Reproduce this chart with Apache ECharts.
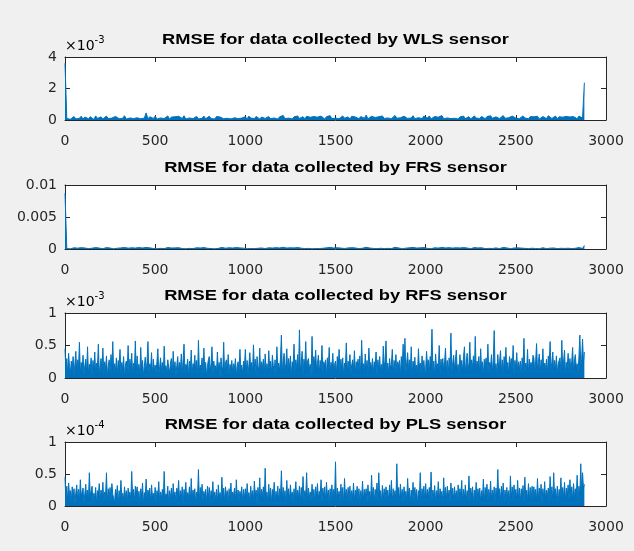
<!DOCTYPE html>
<html>
<head>
<meta charset="utf-8">
<script src="https://cdn.jsdelivr.net/npm/echarts@6/dist/echarts.min.js"></script>
<style>
  html, body { margin: 0; padding: 0; background: #f0f0f0; }
  #chart { width: 634px; height: 551px; }
</style>
</head>
<body>
<div id="chart"></div>
<script>
// sample index spacing of each array (one value every N samples)
const wlsStep = 10, frsStep = 10, rfsStep = 5, plsStep = 5;

// WLS, in units of 1e-5
const wlsRmse = [
  360, 9, 18, 5, 14, 22, 7, 16, 11, 24, 6, 19, 13, 8, 21, 15, 4, 26, 10, 17,
  20, 7, 14, 25, 9, 18, 12, 5, 23, 15, 8, 20, 11, 27, 6, 16, 13, 22, 9, 18,
  14, 25, 8, 19, 12, 45, 7, 21, 16, 10, 24, 6, 18, 13, 22, 9, 15, 26, 5, 19,
  12, 20, 8, 24, 15, 10, 27, 6, 17, 13, 21, 9, 16, 23, 7, 19, 11, 25, 8, 14,
  24, 10, 17, 6, 22, 13, 19, 28, 8, 15, 11, 23, 7, 18, 14, 26, 9, 20, 12, 16,
  21, 7, 25, 12, 17, 9, 23, 14, 6, 19, 27, 10, 15, 22, 8, 18, 13, 24, 6, 20,
  15, 29, 9, 18, 12, 23, 7, 20, 14, 26, 10, 16, 21, 8, 24, 13, 17, 6, 22, 11,
  18, 10, 25, 14, 7, 21, 16, 28, 9, 19, 12, 23, 8, 17, 26, 11, 15, 20, 6, 24,
  13, 19, 27, 8, 22, 15, 11, 31, 7, 18, 24, 12, 16, 9, 21, 14, 26, 10, 19, 13,
  23, 8, 17, 29, 11, 20, 14, 6, 24, 16, 10, 22, 13, 27, 8, 18, 15, 21, 9, 25,
  19, 12, 26, 7, 16, 22, 10, 18, 14, 28, 8, 20, 13, 24, 9, 17, 11, 23, 6, 19,
  14, 25, 9, 18, 21, 7, 16, 26, 12, 19, 10, 23, 15, 8, 22, 13, 27, 11, 17, 20,
  24, 9, 16, 28, 11, 20, 14, 7, 25, 18, 12, 21, 9, 17, 26, 13, 19, 8, 22, 15,
  20, 11, 24, 7, 17, 22, 13, 9, 27, 16, 10, 19, 25, 8, 21, 14, 18, 12, 23, 15,
  19, 10, 22, 14, 8, 25, 16, 12, 237
];

// FRS, in units of 1e-5
const frsRmse = [
  870, 6, 15, 3, 11, 19, 5, 13, 8, 21, 4, 16, 10, 6, 18, 12, 3, 22, 7, 14,
  17, 5, 11, 22, 7, 15, 9, 3, 20, 12, 6, 17, 8, 24, 4, 13, 10, 19, 6, 15,
  11, 22, 6, 16, 9, 25, 5, 18, 13, 7, 21, 4, 15, 10, 19, 6, 12, 23, 3, 16,
  9, 17, 6, 21, 12, 7, 24, 4, 14, 10, 18, 6, 13, 20, 5, 16, 8, 22, 6, 11,
  21, 7, 14, 4, 19, 10, 16, 25, 6, 12, 8, 20, 5, 15, 11, 23, 6, 17, 9, 13,
  18, 5, 22, 9, 14, 6, 20, 11, 4, 16, 24, 7, 12, 19, 6, 15, 10, 21, 4, 17,
  12, 26, 6, 15, 9, 20, 5, 17, 11, 23, 7, 13, 18, 6, 21, 10, 14, 4, 19, 8,
  15, 7, 22, 11, 5, 18, 13, 25, 6, 16, 9, 20, 6, 14, 23, 8, 12, 17, 4, 21,
  10, 16, 24, 6, 19, 12, 8, 27, 5, 15, 21, 9, 13, 6, 18, 11, 23, 7, 16, 10,
  20, 6, 14, 26, 8, 17, 11, 4, 21, 13, 7, 19, 10, 24, 6, 15, 12, 18, 6, 22,
  16, 9, 23, 5, 13, 19, 7, 15, 11, 25, 6, 17, 10, 21, 6, 14, 8, 20, 4, 16,
  11, 22, 6, 15, 18, 5, 13, 23, 9, 16, 7, 20, 12, 6, 19, 10, 24, 8, 14, 17,
  21, 6, 13, 25, 8, 17, 11, 5, 22, 15, 9, 18, 6, 14, 23, 10, 16, 6, 19, 12,
  17, 8, 21, 5, 14, 19, 10, 6, 24, 13, 7, 16, 22, 6, 18, 11, 15, 9, 20, 12,
  16, 7, 19, 11, 6, 22, 13, 9, 55
];

// RFS, in units of 1e-5
const rfsRmse = [
  45, 12, 30, 5, 38, 18, 8, 26, 14, 33, 3, 22, 41, 9, 28, 16, 55, 7, 24, 11, 35, 4, 19, 29, 10, 48, 6, 21, 15, 31, 2, 27, 13, 40, 8, 23, 17, 52, 5, 20,
  30, 11, 46, 7, 25, 14, 34, 3, 19, 28, 9, 36, 16, 56, 6, 22, 12, 31, 4, 27, 18, 44, 8, 24, 13, 33, 2, 20, 26, 10, 50, 7, 29, 15, 38, 5, 23, 12, 57, 9,
  34, 14, 21, 6, 47, 11, 27, 3, 18, 32, 10, 25, 56, 7, 22, 15, 39, 4, 29, 12, 20, 8, 26, 45, 5, 17, 31, 11, 24, 2, 49, 13, 19, 7, 28, 16, 9, 23, 30, 6,
  41, 12, 25, 4, 19, 33, 8, 24, 14, 37, 5, 28, 52, 10, 21, 16, 29, 3, 26, 13, 43, 7, 22, 18, 35, 9, 27, 4, 58, 11, 20, 15, 31, 6, 46, 12, 24, 3, 18, 28,
  33, 9, 22, 48, 5, 26, 14, 19, 7, 40, 12, 24, 2, 31, 17, 11, 55, 6, 23, 28, 10, 36, 4, 21, 15, 27, 8, 22, 13, 30, 3, 19, 25, 9, 44, 12, 20, 6, 26, 16,
  44, 10, 27, 5, 21, 39, 13, 24, 8, 51, 15, 29, 3, 33, 18, 11, 46, 7, 25, 16, 29, 4, 37, 12, 22, 9, 42, 14, 26, 6, 35, 19, 10, 28, 4, 48, 13, 23, 11, 31,
  66, 8, 27, 38, 12, 22, 45, 6, 30, 14, 34, 3, 25, 18, 52, 9, 28, 15, 36, 7, 74, 11, 24, 41, 5, 29, 17, 56, 10, 26, 30, 13, 21, 4, 64, 8, 33, 19, 43, 12,
  22, 35, 6, 27, 14, 50, 9, 25, 18, 28, 4, 31, 13, 47, 7, 24, 16, 38, 10, 21, 26, 5, 33, 15, 44, 8, 29, 12, 31, 3, 23, 17, 54, 9, 26, 14, 36, 6, 20, 28,
  14, 42, 7, 25, 18, 29, 11, 34, 4, 58, 15, 22, 9, 37, 13, 27, 6, 46, 17, 24, 13, 30, 8, 25, 19, 40, 5, 28, 12, 33, 10, 21, 4, 49, 16, 26, 57, 11, 23, 8,
  30, 15, 21, 44, 6, 27, 12, 36, 9, 25, 18, 27, 4, 33, 14, 52, 10, 61, 7, 24, 39, 13, 28, 11, 48, 5, 26, 17, 32, 8, 20, 10, 45, 15, 23, 6, 34, 12, 27, 9,
  13, 41, 19, 28, 8, 33, 24, 75, 11, 26, 4, 37, 16, 22, 11, 50, 7, 29, 18, 30, 12, 25, 46, 9, 27, 5, 31, 14, 69, 8, 23, 35, 13, 28, 43, 10, 21, 6, 36, 17,
  27, 10, 33, 48, 7, 24, 38, 13, 22, 55, 9, 28, 16, 34, 8, 64, 12, 26, 19, 33, 6, 45, 14, 25, 4, 29, 17, 31, 11, 52, 8, 24, 18, 36, 9, 27, 73, 12, 22, 7,
  36, 14, 25, 42, 9, 28, 5, 33, 17, 47, 11, 24, 8, 33, 19, 30, 12, 50, 6, 27, 15, 39, 10, 25, 14, 26, 4, 31, 18, 61, 9, 23, 13, 44, 7, 29, 19, 24, 11, 35,
  31, 9, 26, 53, 12, 24, 37, 7, 28, 16, 45, 10, 23, 14, 29, 5, 34, 18, 56, 11, 25, 40, 8, 27, 14, 34, 6, 22, 19, 31, 9, 58, 13, 26, 43, 7, 24, 16, 38, 11,
  30, 13, 25, 47, 9, 28, 36, 15, 22, 8, 33, 66, 19, 28, 60, 24, 40
];

// PLS, in units of 1e-6
const plsRmse = [
  45, 10, 31, 6, 36, 18, 24, 8, 30, 14, 27, 4, 21, 33, 11, 26, 7, 41, 15, 22, 28, 5, 19, 34, 12, 25, 9, 52, 16, 23, 31, 6, 20, 13, 29, 4, 24, 17, 35, 10,
  25, 12, 37, 7, 22, 16, 52, 5, 27, 13, 29, 9, 35, 18, 21, 6, 26, 14, 32, 3, 24, 11, 40, 15, 20, 8, 30, 13, 24, 5, 28, 16, 22, 9, 54, 12, 26, 7, 31, 18,
  30, 11, 23, 6, 27, 15, 36, 4, 21, 12, 42, 9, 25, 17, 28, 5, 33, 14, 20, 10, 29, 7, 24, 16, 38, 6, 22, 13, 26, 9, 54, 11, 19, 15, 31, 4, 24, 12, 28, 8,
  35, 14, 22, 6, 28, 17, 40, 9, 24, 12, 30, 5, 26, 15, 37, 8, 21, 13, 30, 6, 43, 11, 25, 16, 27, 4, 22, 14, 57, 9, 29, 12, 34, 7, 23, 15, 26, 5, 31, 13,
  29, 8, 24, 15, 38, 6, 22, 11, 26, 4, 33, 14, 21, 9, 45, 12, 28, 7, 30, 16, 24, 5, 27, 13, 36, 8, 22, 15, 28, 6, 41, 11, 25, 9, 23, 14, 30, 5, 26, 12,
  27, 9, 35, 14, 21, 6, 31, 12, 24, 8, 39, 15, 25, 4, 29, 11, 44, 7, 26, 16, 30, 9, 59, 13, 22, 6, 34, 11, 28, 5, 26, 14, 37, 8, 23, 12, 31, 6, 27, 15,
  55, 10, 29, 14, 24, 6, 40, 12, 27, 8, 33, 15, 22, 5, 27, 11, 38, 9, 25, 14, 31, 6, 29, 12, 46, 8, 24, 15, 52, 5, 28, 13, 22, 9, 34, 11, 26, 7, 30, 14,
  35, 10, 23, 15, 41, 6, 28, 12, 30, 8, 37, 14, 25, 5, 27, 11, 33, 9, 26, 13, 69, 6, 28, 15, 23, 8, 34, 12, 29, 4, 43, 14, 26, 9, 29, 11, 31, 6, 24, 13,
  36, 7, 25, 14, 31, 10, 27, 5, 24, 12, 39, 8, 26, 15, 27, 6, 33, 11, 23, 9, 48, 13, 29, 6, 26, 12, 36, 8, 52, 14, 24, 5, 32, 11, 27, 9, 30, 13, 25, 7,
  33, 12, 40, 6, 27, 14, 24, 9, 66, 11, 29, 7, 34, 13, 26, 5, 30, 12, 23, 8, 43, 15, 28, 6, 25, 11, 37, 9, 29, 13, 26, 4, 24, 12, 52, 8, 27, 14, 31, 9,
  35, 11, 26, 14, 29, 7, 53, 10, 25, 13, 32, 6, 24, 12, 38, 8, 27, 15, 23, 5, 44, 11, 29, 9, 31, 14, 25, 6, 36, 12, 28, 8, 30, 13, 24, 7, 33, 11, 27, 15,
  40, 6, 26, 13, 33, 9, 24, 12, 47, 8, 28, 15, 30, 5, 25, 11, 37, 9, 27, 14, 28, 7, 24, 12, 42, 6, 29, 15, 34, 8, 26, 11, 39, 10, 25, 13, 30, 6, 28, 14,
  57, 12, 27, 8, 31, 14, 36, 6, 25, 10, 29, 13, 24, 5, 47, 12, 30, 8, 33, 15, 26, 9, 40, 11, 28, 7, 27, 14, 32, 6, 45, 12, 25, 9, 35, 13, 29, 8, 31, 12,
  30, 14, 26, 8, 43, 10, 28, 13, 34, 5, 27, 12, 38, 9, 25, 15, 28, 6, 46, 11, 30, 7, 52, 13, 27, 9, 31, 6, 26, 14, 44, 10, 29, 12, 37, 8, 28, 15, 33, 9,
  41, 12, 30, 10, 35, 14, 27, 13, 48, 8, 31, 15, 66, 20, 52, 28, 34
];

const panels = [
  { name: 'WLS', data: wlsRmse, step: wlsStep, unit: 1e-5, max: 0.004, interval: 0.002, scale: 1e3, exp: '-3', top: 57, height: 63 },
  { name: 'FRS', data: frsRmse, step: frsStep, unit: 1e-5, max: 0.01, interval: 0.005, scale: 1, exp: null, top: 185, height: 64 },
  { name: 'RFS', data: rfsRmse, step: rfsStep, unit: 1e-5, max: 0.001, interval: 0.0005, scale: 1e3, exp: '-3', top: 313, height: 65 },
  { name: 'PLS', data: plsRmse, step: plsStep, unit: 1e-6, max: 0.0001, interval: 0.00005, scale: 1e4, exp: '-4', top: 442, height: 64 }
];

const LEFT = 65, WIDTH = 541;
const ink = '#262626';
const blue = '#0072BD';
const labelFont = 'DejaVu Sans';
const titleFont = 'Liberation Sans, Arial, sans-serif';

let grid = [], xAxis = [], yAxis = [], series = [], graphic = [];

panels.forEach((p, k) => {
  grid.push({
    left: LEFT, top: p.top, width: WIDTH, height: p.height,
    show: true, backgroundColor: '#fff', borderWidth: 0
  });
  const line = { show: true, onZero: false, lineStyle: { color: ink, width: 1 } };
  const tick = { show: true, inside: true, length: 5, lineStyle: { color: ink } };
  // bottom + top x axes
  xAxis.push({
    gridIndex: k, type: 'value', min: 0, max: 3000, interval: 500, position: 'bottom',
    axisLine: line, axisTick: tick, splitLine: { show: false },
    axisLabel: { color: ink, fontSize: 14, fontFamily: labelFont, margin: 14, formatter: v => String(v) }
  });
  xAxis.push({
    gridIndex: k, type: 'value', min: 0, max: 3000, interval: 500, position: 'top',
    axisLine: line, axisTick: tick, splitLine: { show: false }, axisLabel: { show: false }
  });
  // left + right y axes
  yAxis.push({
    gridIndex: k, type: 'value', min: 0, max: p.max, interval: p.interval, position: 'left',
    axisLine: line, axisTick: tick, splitLine: { show: false },
    axisLabel: {
      color: ink, fontSize: 14, fontFamily: labelFont, margin: 8,
      formatter: v => String(+(v * p.scale).toFixed(4))
    }
  });
  yAxis.push({
    gridIndex: k, type: 'value', min: 0, max: p.max, interval: p.interval, position: 'right',
    axisLine: line, axisTick: tick, splitLine: { show: false }, axisLabel: { show: false }
  });
  // dense noisy trace: line plus same-colour fill so it reads as solid like the original
  series.push({
    type: 'line', xAxisIndex: 2 * k, yAxisIndex: 2 * k,
    data: p.data.map((v, i) => [i * p.step, v * p.unit]),
    showSymbol: false, symbol: 'none',
    lineStyle: { color: blue, width: 1 },
    areaStyle: { color: blue, opacity: 1 },
    z: 1
  });
  graphic.push({
    type: 'text', x: LEFT + WIDTH / 2, y: p.top - 17, scaleX: 1.22,
    style: {
      text: 'RMSE for data collected by ' + p.name + ' sensor',
      fill: '#000', font: 'bold 15px ' + titleFont,
      textAlign: 'center', textVerticalAlign: 'middle'
    }
  });
  if (p.exp) {
    graphic.push({
      type: 'text', x: LEFT, y: p.top - 4,
      style: {
        text: '{b|×10}{s|' + p.exp + '}',
        textVerticalAlign: 'bottom',
        rich: {
          b: { fontSize: 14, fontFamily: labelFont, color: ink, verticalAlign: 'bottom' },
          s: { fontSize: 10, fontFamily: labelFont, color: ink, verticalAlign: 'top', padding: [0, 0, 8, 0] }
        }
      }
    });
  }
});

const chart = echarts.init(document.getElementById('chart'));
chart.setOption({
  backgroundColor: '#f0f0f0',
  animation: false,
  grid, xAxis, yAxis, series, graphic
});
</script>
</body>
</html>
